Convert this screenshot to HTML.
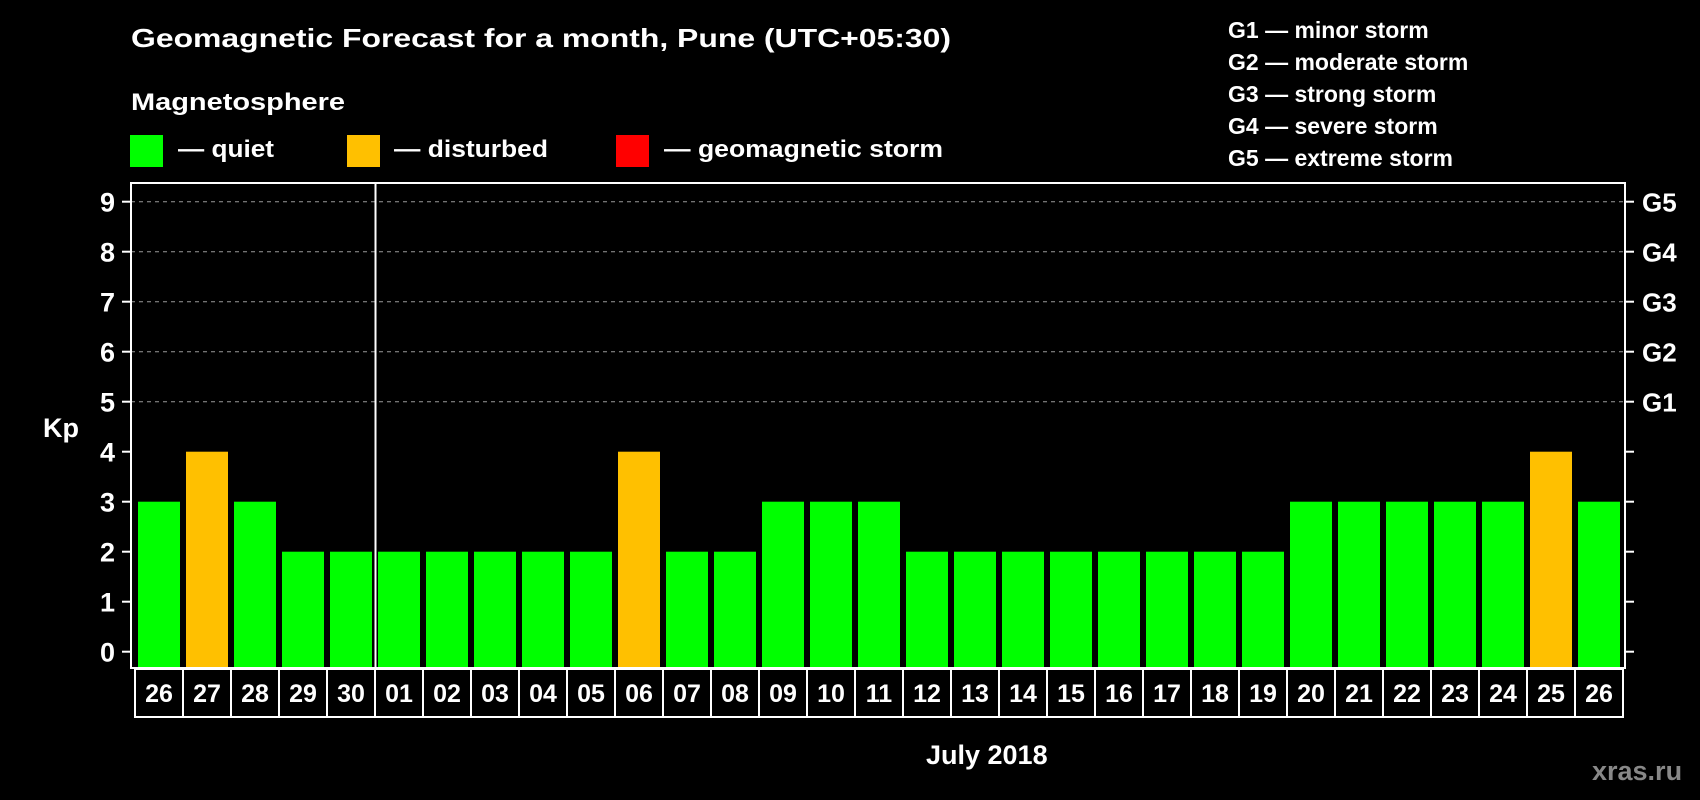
<!DOCTYPE html>
<html><head><meta charset="utf-8">
<style>
html,body{margin:0;padding:0;background:#000;width:1700px;height:800px;overflow:hidden}
svg text{font-family:"Liberation Sans",Arial,sans-serif;font-weight:bold;fill:#fff}
</style></head>
<body>
<svg id="chart" width="1700" height="800" viewBox="0 0 1700 800" xmlns="http://www.w3.org/2000/svg">
<rect x="0" y="0" width="1700" height="800" fill="#000"/>
<text x="131" y="47" font-size="26" textLength="820" lengthAdjust="spacingAndGlyphs">Geomagnetic Forecast for a month, Pune (UTC+05:30)</text>
<text x="131" y="110" font-size="24" textLength="214" lengthAdjust="spacingAndGlyphs">Magnetosphere</text>
<g>
<rect x="130" y="135" width="33" height="32" fill="#00ff00"/>
<text x="178" y="157" font-size="24" textLength="96" lengthAdjust="spacingAndGlyphs">— quiet</text></g>
<g>
<rect x="347" y="135" width="33" height="32" fill="#ffc000"/>
<text x="394" y="157" font-size="24" textLength="154" lengthAdjust="spacingAndGlyphs">— disturbed</text></g>
<g>
<rect x="616" y="135" width="33" height="32" fill="#ff0000"/>
<text x="664" y="157" font-size="24" textLength="279" lengthAdjust="spacingAndGlyphs">— geomagnetic storm</text></g>
<g font-size="23">
<text x="1228" y="38">G1 — minor storm</text>
<text x="1228" y="70">G2 — moderate storm</text>
<text x="1228" y="102">G3 — strong storm</text>
<text x="1228" y="134">G4 — severe storm</text>
<text x="1228" y="166">G5 — extreme storm</text>
</g>
<text x="43" y="437" font-size="27">Kp</text>
<g id="grid"></g>
<g id="bars"></g>
<rect x="131" y="183" width="1494" height="485" fill="none" stroke="#fff" stroke-width="2"/>
<line x1="375.5" y1="183" x2="375.5" y2="668" stroke="#fff" stroke-width="2"/>
<g id="dates"></g>
<text x="926" y="764" font-size="27">July 2018</text>
<text x="1592" y="780" font-size="27" style="fill:#888">xras.ru</text>
</svg>
<script>
const days = ["26","27","28","29","30","01","02","03","04","05","06","07","08","09","10","11","12","13","14","15","16","17","18","19","20","21","22","23","24","25","26"];
const kpValues = [3,4,3,2,2,2,2,2,2,2,4,2,2,3,3,3,2,2,2,2,2,2,2,2,3,3,3,3,3,4,3];
const yTicks = [0,1,2,3,4,5,6,7,8,9];
const gLabels = ["G1","G2","G3","G4","G5"];
const gLevels = [5,6,7,8,9];

const NS = "http://www.w3.org/2000/svg";
const plotL = 131, plotR = 1625, y0 = 651.7, unit = 50;
const pitch = 48, barStart = 138, barW = 42;
function y(v){ return y0 - v*unit; }
function x(i){ return barStart + i*pitch; }
function mk(tag, attrs, parent){ const e=document.createElementNS(NS,tag); for(const k in attrs) e.setAttribute(k,attrs[k]); parent.appendChild(e); return e; }

const grid = document.getElementById('grid');
yTicks.forEach(t=>{
  const yy = y(t);
  if(t>=5){
    const g = mk('line',{x1:plotL,x2:plotR,y1:yy,y2:yy,stroke:'#999','stroke-width':1,'stroke-dasharray':'4 4'},grid);
    
    
  }
  const tl = mk('line',{x1:122,x2:plotL,y1:yy,y2:yy,stroke:'#fff','stroke-width':2},grid);
  
  
  const tr = mk('line',{x1:plotR,x2:1634,y1:yy,y2:yy,stroke:'#fff','stroke-width':2},grid);
  
  
  const lb = mk('text',{x:115,y:yy+10,'text-anchor':'end','font-size':27},grid);
  lb.textContent = t;
  
  
});
gLabels.forEach((g,i)=>{
  const lb = mk('text',{x:1642,y:y(gLevels[i])+10,'font-size':26},grid);
  lb.textContent = g;
  
  
});

const bars = document.getElementById('bars');
kpValues.forEach((v,i)=>{
  const col = v>=5 ? '#ff0000' : (v>=4 ? '#ffc000' : '#00ff00');
  const r = mk('rect',{x:x(i),y:y(v),width:barW,height:668-y(v),fill:col},bars);
  
  
});

const dates = document.getElementById('dates');
const dL = 135, dTop = 669, dH = 48;
days.forEach((d,i)=>{
  const cx = dL + i*pitch;
  const c = mk('rect',{x:cx,y:dTop,width:pitch,height:dH,fill:'none',stroke:'#fff','stroke-width':2},dates);
  
  
  const t = mk('text',{x:cx+pitch/2,y:702,'text-anchor':'middle','font-size':25},dates);
  t.textContent = d;
  
  
});
</script>
</body></html>
